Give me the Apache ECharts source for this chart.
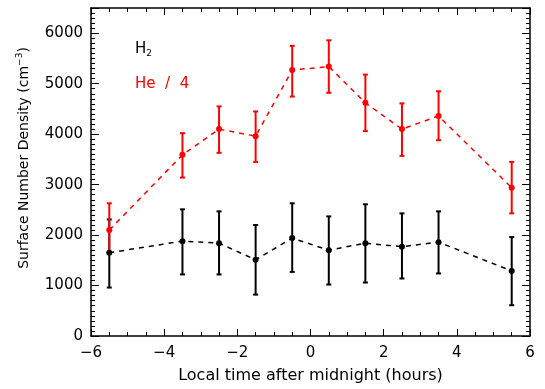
<!DOCTYPE html>
<html>
<head>
<meta charset="utf-8">
<script src="https://cdn.jsdelivr.net/npm/echarts@6/dist/echarts.min.js"></script>
<style>
  html, body { margin: 0; padding: 0; background: #fff; }
  #chart { width: 545px; height: 389px; }
</style>
</head>
<body>
<div id="chart"></div>
<script>
const hours = [-5.5, -3.5, -2.5, -1.5, -0.5, 0.5, 1.5, 2.5, 3.5, 5.5];
const h2Density = [1650, 1880, 1840, 1510, 1940, 1700, 1840, 1770, 1860, 1290];
const h2Low = [960, 1220, 1220, 820, 1270, 1020, 1060, 1140, 1240, 610];
const h2High = [2310, 2510, 2470, 2200, 2630, 2370, 2610, 2430, 2470, 1960];
const heDensity = [2100, 3590, 4100, 3960, 5270, 5340, 4620, 4100, 4360, 2940];
const heLow = [1650, 3140, 3630, 3450, 4745, 4820, 4060, 3570, 3880, 2430];
const heHigh = [2630, 4020, 4550, 4450, 5750, 5860, 5180, 4610, 4850, 3450];

const font = 'DejaVu Sans';
const ink = '#000';
const red = '#ff0000';

const chart = echarts.init(document.getElementById('chart'));

function errorBars(low, high, color) {
  return {
    type: 'custom',
    xAxisIndex: 0,
    yAxisIndex: 0,
    z: 3,
    data: hours.map((h, i) => [h, low[i], high[i]]),
    renderItem(params, api) {
      const lo = api.coord([api.value(0), api.value(1)]);
      const hi = api.coord([api.value(0), api.value(2)]);
      const cap = 2.5;
      const style = {stroke: color, lineWidth: 2};
      return {
        type: 'group',
        children: [
          {type: 'line', shape: {x1: lo[0], y1: lo[1], x2: hi[0], y2: hi[1]}, style},
          {type: 'line', shape: {x1: lo[0] - cap, y1: lo[1], x2: lo[0] + cap, y2: lo[1]}, style},
          {type: 'line', shape: {x1: hi[0] - cap, y1: hi[1], x2: hi[0] + cap, y2: hi[1]}, style}
        ]
      };
    }
  };
}

function lineSeries(values, color) {
  return {
    type: 'line',
    xAxisIndex: 0,
    yAxisIndex: 0,
    z: 4,
    data: hours.map((h, i) => [h, values[i]]),
    symbol: 'circle',
    symbolSize: 6,
    itemStyle: {color},
    lineStyle: {color, width: 1.5, type: [5, 5]}
  };
}

const xBase = {
  type: 'value', min: -6, max: 6, interval: 2,
  splitLine: {show: false},
  axisLine: {show: true, onZero: false, lineStyle: {color: ink, width: 1.5}},
  axisTick: {show: true, inside: true, length: 7, lineStyle: {color: ink}},
  minorTick: {show: true, splitNumber: 4, length: 4, lineStyle: {color: ink}}
};
const yMajor = {
  type: 'value', min: 0, max: 6500, interval: 1000,
  splitLine: {show: false},
  axisLine: {show: true, onZero: false, lineStyle: {color: ink, width: 1.5}},
  axisTick: {show: true, inside: true, length: 8, lineStyle: {color: ink}}
};
const yMinor = {
  type: 'value', min: 0, max: 6500, interval: 100,
  splitLine: {show: false},
  axisLine: {show: false, onZero: false},
  axisLabel: {show: false},
  axisTick: {show: true, inside: true, length: 4, lineStyle: {color: ink}}
};

chart.setOption({
  animation: false,
  grid: {left: 91, right: 15, top: 8, bottom: 50},
  xAxis: [
    Object.assign({}, xBase, {
      position: 'bottom',
      axisLabel: {
        color: ink, fontFamily: font, fontSize: 15, margin: 10,
        formatter: v => (v < 0 ? '\u2212' + Math.abs(v) : String(v))
      },
      name: 'Local time after midnight (hours)',
      nameLocation: 'middle',
      nameGap: 32,
      nameTextStyle: {color: ink, fontFamily: font, fontSize: 16}
    }),
    Object.assign({}, xBase, {position: 'top', axisLabel: {show: false}})
  ],
  yAxis: [
    Object.assign({}, yMajor, {
      position: 'left',
      axisLabel: {
        color: ink, fontFamily: font, fontSize: 15, margin: 8,
        formatter: v => (v % 1000 === 0 ? String(v) : '')
      }
    }),
    Object.assign({}, yMajor, {position: 'right', axisLabel: {show: false}}),
    Object.assign({}, yMinor, {position: 'left'}),
    Object.assign({}, yMinor, {position: 'right'})
  ],
  graphic: [
    {
      type: 'text', left: 135, top: 42,
      style: {
        text: '{m|H}{s|2}',
        rich: {
          m: {fontFamily: font, fontSize: 15, fill: ink},
          s: {fontFamily: font, fontSize: 9, fill: ink, padding: [8, 0, 0, 0]}
        }
      }
    },
    {
      type: 'text', left: 135, top: 77,
      style: {text: 'He  /  4', fontFamily: font, fontSize: 15, fill: red}
    },
    {
      type: 'text', x: 24, y: 158, rotation: Math.PI / 2,
      style: {
        text: '{t|Surface Number Density (cm}{p|\u22123}{t|)}',
        align: 'center', verticalAlign: 'middle',
        rich: {
          t: {fontFamily: font, fontSize: 14, fill: ink},
          p: {fontFamily: font, fontSize: 9, fill: ink, padding: [0, 0, 8, 0]}
        }
      }
    }
  ],
  series: [
    errorBars(h2Low, h2High, ink),
    lineSeries(h2Density, ink),
    errorBars(heLow, heHigh, red),
    lineSeries(heDensity, red)
  ]
});
</script>
</body>
</html>
